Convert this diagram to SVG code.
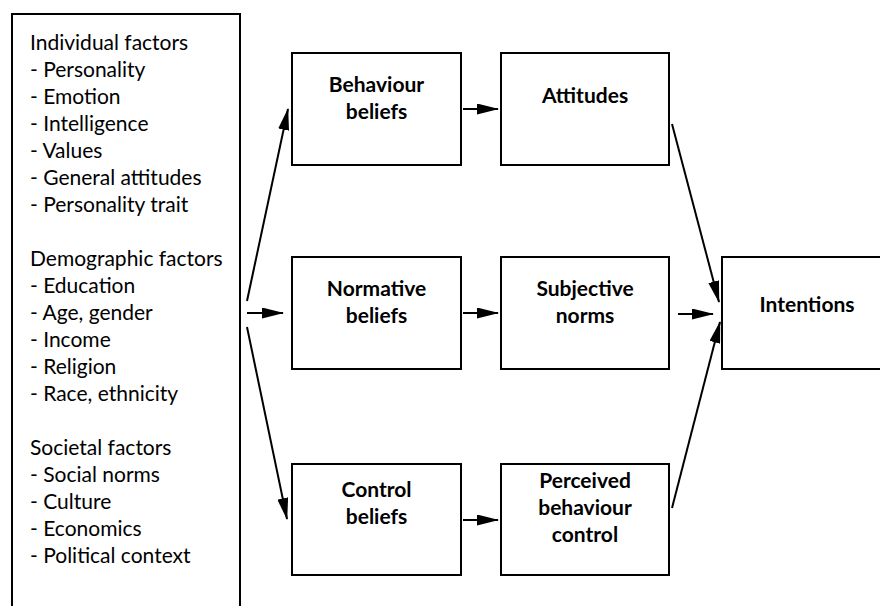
<svg xmlns="http://www.w3.org/2000/svg" width="880" height="606" viewBox="0 0 880 606">
  <style>
    .box { fill: #ffffff; stroke: #000000; stroke-width: 2; }
    .list { font-family: Lato, "Open Sans", sans-serif; font-size: 21px; fill: #000000; }
    .label { font-family: Lato, "Open Sans", sans-serif; font-size: 21px; font-weight: bold; fill: #000000; text-anchor: middle; }
    .conn { stroke: #000000; stroke-width: 2; fill: none; marker-end: url(#head); }
  </style>
  <defs>
    <marker id="head" viewBox="0 0 22 11" refX="21" refY="5.5" markerWidth="22" markerHeight="11" markerUnits="userSpaceOnUse" orient="auto">
      <path d="M0,0 L22,5.5 L0,11 z" fill="#000000"/>
    </marker>
  </defs>
  <rect width="880" height="606" fill="#ffffff"/>

  <!-- influencing factors list -->
  <g id="factors">
    <rect class="box" x="12" y="14" width="228" height="610"/>
    <text class="list" x="30">
      <tspan x="30" y="50">Individual factors</tspan>
      <tspan x="30" y="77">- Personality</tspan>
      <tspan x="30" y="104">- Emotion</tspan>
      <tspan x="30" y="131">- Intelligence</tspan>
      <tspan x="30" y="158">- Values</tspan>
      <tspan x="30" y="185">- General attitudes</tspan>
      <tspan x="30" y="212">- Personality trait</tspan>
      <tspan x="30" y="266">Demographic factors</tspan>
      <tspan x="30" y="293">- Education</tspan>
      <tspan x="30" y="320">- Age, gender</tspan>
      <tspan x="30" y="347">- Income</tspan>
      <tspan x="30" y="374">- Religion</tspan>
      <tspan x="30" y="401">- Race, ethnicity</tspan>
      <tspan x="30" y="455">Societal factors</tspan>
      <tspan x="30" y="482">- Social norms</tspan>
      <tspan x="30" y="509">- Culture</tspan>
      <tspan x="30" y="536">- Economics</tspan>
      <tspan x="30" y="563">- Political context</tspan>
    </text>
  </g>

  <g id="behaviour-beliefs">
    <rect class="box" x="292" y="53" width="169" height="112"/>
    <text class="label"><tspan x="376.5" y="92">Behaviour</tspan><tspan x="376.5" y="119">beliefs</tspan></text>
  </g>
  <g id="attitudes">
    <rect class="box" x="501" y="53" width="168" height="112"/>
    <text class="label" x="585" y="103">Attitudes</text>
  </g>
  <g id="normative-beliefs">
    <rect class="box" x="292" y="257" width="169" height="112"/>
    <text class="label"><tspan x="376.5" y="296">Normative</tspan><tspan x="376.5" y="323">beliefs</tspan></text>
  </g>
  <g id="subjective-norms">
    <rect class="box" x="501" y="257" width="168" height="112"/>
    <text class="label"><tspan x="585" y="296">Subjective</tspan><tspan x="585" y="323">norms</tspan></text>
  </g>
  <g id="intentions">
    <rect class="box" x="722" y="257" width="169" height="112"/>
    <text class="label" x="807" y="312">Intentions</text>
  </g>
  <g id="control-beliefs">
    <rect class="box" x="292" y="464" width="169" height="111"/>
    <text class="label"><tspan x="376.5" y="497">Control</tspan><tspan x="376.5" y="524">beliefs</tspan></text>
  </g>
  <g id="perceived-control">
    <rect class="box" x="501" y="464" width="168" height="111"/>
    <text class="label"><tspan x="585" y="488">Perceived</tspan><tspan x="585" y="515">behaviour</tspan><tspan x="585" y="542">control</tspan></text>
  </g>

  <g id="connectors">
    <line class="conn" x1="247" y1="301" x2="288" y2="109"/>
    <line class="conn" x1="247" y1="313" x2="283" y2="313"/>
    <line class="conn" x1="247" y1="327" x2="287" y2="519"/>
    <line class="conn" x1="463" y1="109" x2="498" y2="109"/>
    <line class="conn" x1="463" y1="313" x2="498" y2="313"/>
    <line class="conn" x1="463" y1="520" x2="498" y2="520"/>
    <line class="conn" x1="672" y1="124" x2="719" y2="302"/>
    <line class="conn" x1="678" y1="314" x2="713" y2="314"/>
    <line class="conn" x1="672" y1="508" x2="720" y2="322"/>
  </g>
</svg>
